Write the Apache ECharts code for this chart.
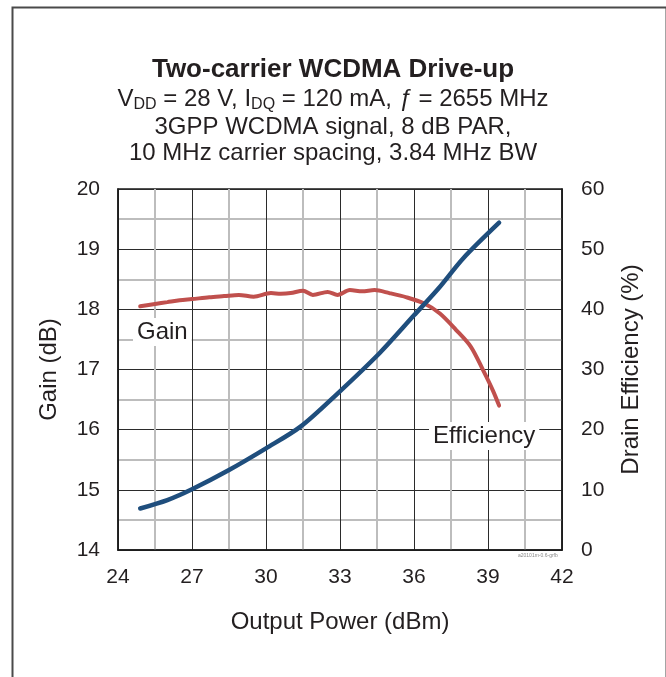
<!DOCTYPE html>
<html><head><meta charset="utf-8">
<script src="https://cdn.jsdelivr.net/npm/echarts@6/dist/echarts.min.js"></script>
<style>html,body{margin:0;padding:0;background:#fff}#c{width:666px;height:677px}</style>
</head><body><div id="c"></div>
<script>
// Gain curve (left axis, dB)
const gainPower = [24.9, 25.5, 26.0, 26.5, 27.0, 27.7, 28.3, 28.9, 29.5, 30.2, 30.6, 31.0, 31.5, 31.9, 32.5, 32.9, 33.4, 33.9, 34.4, 35.0, 35.7, 36.4, 37.05, 37.7, 38.3, 38.8, 39.2, 39.45];
const gainValues = [18.05, 18.09, 18.12, 18.15, 18.17, 18.2, 18.22, 18.24, 18.21, 18.27, 18.26, 18.27, 18.31, 18.24, 18.29, 18.24, 18.32, 18.30, 18.32, 18.27, 18.2, 18.1, 17.93, 17.66, 17.38, 16.99, 16.65, 16.4];
// Drain efficiency curve (right axis, %)
const effPower = [24.9, 26.0, 27.0, 28.5, 30.0, 31.4, 32.9, 34.6, 36.0, 37.0, 38.0, 39.45];
const effValues = [6.9, 8.3, 10.1, 13.3, 16.9, 20.5, 26.0, 32.7, 39.0, 43.5, 48.5, 54.4];
// Axis ranges / ticks
const xTicks = [24, 42, 3];
const gainTicks = [14, 20, 1];
const effTicks = [0, 60, 10];

const chart = echarts.init(document.getElementById('c'), null, {renderer: 'canvas'});
const FONT = '"Liberation Sans", Arial, sans-serif';
const TXT = '#231f20';
const gridMajor = {show: true, lineStyle: {color: '#2b2b2b', width: 1}};
const gridMinor = {show: true, lineStyle: {color: '#bdbdbd', width: 2}};

chart.setOption({
  backgroundColor: '#fff',
  animation: false,
  textStyle: {fontFamily: FONT},
  title: [
    {text: 'Two-carrier WCDMA Drive-up', left: 'center', top: 52,
     textStyle: {fontFamily: FONT, fontWeight: 'bold', fontSize: 26, color: TXT}},
    {text: 'V{s|DD} = 28 V, I{s|DQ} = 120 mA, {i|ƒ} = 2655 MHz', left: 'center', top: 80,
     textStyle: {fontFamily: FONT, fontWeight: 'normal', fontSize: 24, color: TXT,
       rich: {s: {fontFamily: FONT, fontSize: 16, color: TXT, verticalAlign: 'bottom', padding: [12, 0, 0, 0]},
              i: {fontFamily: FONT, fontSize: 24, fontStyle: 'italic', color: TXT}}}},
    {text: '3GPP WCDMA signal, 8 dB PAR,', left: 'center', top: 110,
     textStyle: {fontFamily: FONT, fontWeight: 'normal', fontSize: 24, color: TXT}},
    {text: '10 MHz carrier spacing, 3.84 MHz BW', left: 'center', top: 136,
     textStyle: {fontFamily: FONT, fontWeight: 'normal', fontSize: 24, color: TXT}}
  ],
  grid: {left: 118, top: 189, width: 444, height: 361, show: true, borderColor: '#1a1a1a', borderWidth: 1.5, backgroundColor: 'transparent'},
  xAxis: {
    type: 'value', min: xTicks[0], max: xTicks[1], interval: xTicks[2],
    name: 'Output Power (dBm)', nameLocation: 'middle', nameGap: 60,
    nameTextStyle: {fontFamily: FONT, fontSize: 24, color: TXT},
    axisLine: {show: true, lineStyle: {color: '#1a1a1a', width: 1.5}},
    axisTick: {show: false},
    axisLabel: {fontFamily: FONT, fontSize: 21, color: TXT, margin: 17},
    splitLine: gridMajor,
    minorTick: {show: false, splitNumber: 2},
    minorSplitLine: gridMinor
  },
  yAxis: [
    {type: 'value', min: gainTicks[0], max: gainTicks[1], interval: gainTicks[2], position: 'left',
     name: 'Gain (dB)', nameLocation: 'middle', nameGap: 57,
     nameTextStyle: {fontFamily: FONT, fontSize: 24, color: TXT},
     axisLine: {show: true, lineStyle: {color: '#1a1a1a', width: 1.5}},
     axisTick: {show: false},
     axisLabel: {fontFamily: FONT, fontSize: 21, color: TXT, margin: 18},
     splitLine: gridMajor,
     minorTick: {show: false, splitNumber: 2},
     minorSplitLine: gridMinor},
    {type: 'value', min: effTicks[0], max: effTicks[1], interval: effTicks[2], position: 'right',
     name: 'Drain Efficiency (%)', nameLocation: 'middle', nameGap: 57, nameRotate: 90,
     nameTextStyle: {fontFamily: FONT, fontSize: 24, color: TXT},
     axisLine: {show: true, lineStyle: {color: '#1a1a1a', width: 1.5}},
     axisTick: {show: false},
     axisLabel: {fontFamily: FONT, fontSize: 21, color: TXT, margin: 19},
     splitLine: {show: false}}
  ],
  series: [
    {name: 'Gain', type: 'line', yAxisIndex: 0, smooth: 0.3, symbol: 'none',
     lineStyle: {color: '#c0504d', width: 4, cap: 'round'},
     data: gainPower.map((p, i) => [p, gainValues[i]])},
    {name: 'Efficiency', type: 'line', yAxisIndex: 1, smooth: 0.3, symbol: 'none',
     lineStyle: {color: '#1f4e7d', width: 4.5, cap: 'round'},
     data: effPower.map((p, i) => [p, effValues[i]])}
  ],
  graphic: [
    {type: 'rect', left: 10, top: 5, shape: {width: 654, height: 690}, style: {fill: 'none', stroke: '#4a4a4a', lineWidth: 2}, silent: true},
    {type: 'text', left: 133, top: 318, z: 100,
     style: {text: 'Gain', font: '24px ' + FONT, fill: TXT, backgroundColor: '#fff', padding: [2, 4, 2, 4]}},
    {type: 'text', left: 429, top: 422, z: 100,
     style: {text: 'Efficiency', font: '24px ' + FONT, fill: TXT, backgroundColor: '#fff', padding: [2, 4, 2, 4]}},
    {type: 'text', left: 518, top: 553, z: 100,
     style: {text: 'a20101m-0.6-grfb', font: '5px ' + FONT, fill: '#888'}}
  ]
});
</script>
</body></html>
